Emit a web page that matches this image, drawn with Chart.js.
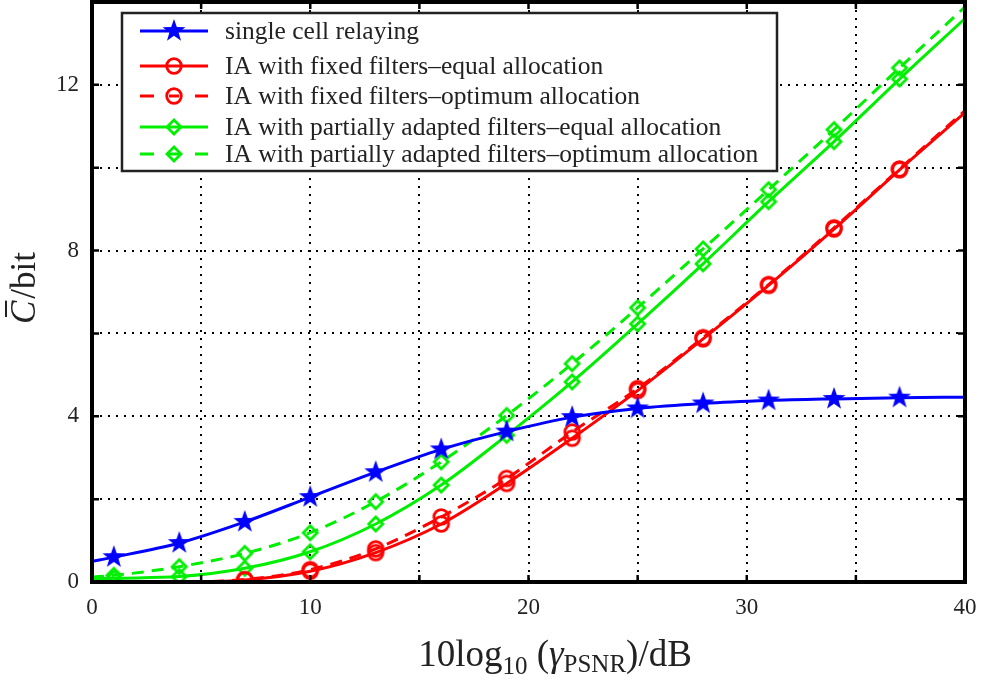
<!DOCTYPE html>
<html>
<head>
<meta charset="utf-8">
<script src="https://cdn.jsdelivr.net/npm/chart.js@4/dist/chart.umd.min.js"></script>
<style>
  html, body { margin: 0; padding: 0; background: #fff; }
</style>
</head>
<body>
<canvas id="chart" width="983" height="681"></canvas>
<script>
// x positions (dB) of the curves, markers sit every 3 dB from 1 to 37
const snrDb = [0, 1, 4, 7, 10, 13, 16, 19, 22, 25, 28, 31, 34, 37, 40];
const markerDb = [1, 4, 7, 10, 13, 16, 19, 22, 25, 28, 31, 34, 37];

const singleCell   = [0.50, 0.60, 0.94, 1.45, 2.05, 2.65, 3.20, 3.63, 3.98, 4.19, 4.31, 4.38, 4.42, 4.45, 4.46];
const fixedEqual   = [0.00, 0.00, 0.00, 0.05, 0.26, 0.71, 1.40, 2.38, 3.47, 4.62, 5.87, 7.16, 8.52, 9.95, 11.33];
const fixedOpt     = [0.00, 0.00, 0.00, 0.06, 0.30, 0.80, 1.57, 2.50, 3.62, 4.67, 5.90, 7.18, 8.55, 9.97, 11.38];
const partialEqual = [0.07, 0.09, 0.13, 0.33, 0.73, 1.40, 2.34, 3.54, 4.83, 6.23, 7.68, 9.18, 10.63, 12.14, 13.60];
const partialOpt   = [0.12, 0.16, 0.37, 0.69, 1.19, 1.94, 2.90, 4.02, 5.27, 6.62, 8.04, 9.47, 10.92, 12.41, 13.88];

const labels = [
  'single cell relaying',
  'IA with fixed filters\u2013equal allocation',
  'IA with fixed filters\u2013optimum allocation',
  'IA with partially adapted filters\u2013equal allocation',
  'IA with partially adapted filters\u2013optimum allocation'
];

const xTickLabels = [0, 10, 20, 30, 40];
const yTickLabels = [0, 4, 8, 12];

const FONT = "'Liberation Serif', 'DejaVu Serif', serif";
const BLUE = '#0000ff', RED = '#ff0000', GREEN = '#00ee00';

// marker pictures used as pointStyle
function makeMarker(kind, color) {
  const s = kind === 'star' ? 28 : 22;
  const c = document.createElement('canvas');
  c.width = s; c.height = s;
  const g = c.getContext('2d');
  g.translate(s / 2, s / 2);
  g.strokeStyle = color;
  g.fillStyle = color;
  g.lineWidth = 2.8;
  g.beginPath();
  if (kind === 'star') {
    for (let i = 0; i < 10; i++) {
      const r = i % 2 ? 4.8 : 12;
      const a = -Math.PI / 2 + i * Math.PI / 5;
      g.lineTo(r * Math.cos(a), r * Math.sin(a));
    }
    g.closePath();
    g.fill();
  } else if (kind === 'circle') {
    g.arc(0, 0, 7.3, 0, Math.PI * 2);
    g.stroke();
  } else {
    g.moveTo(0, -7); g.lineTo(7, 0); g.lineTo(0, 7); g.lineTo(-7, 0);
    g.closePath();
    g.stroke();
  }
  return c;
}

const starImg = makeMarker('star', BLUE);
const circleImg = makeMarker('circle', RED);
const diamondImg = makeMarker('diamond', GREEN);

function series(label, values, color, img, dash) {
  return {
    label: label,
    data: snrDb.map((x, i) => ({x: x, y: values[i]})),
    borderColor: color,
    backgroundColor: color,
    borderWidth: 3,
    borderDash: dash,
    pointStyle: img,
    pointRadius: ctx => {
      const p = ctx.raw;
      return markerDb.includes(p.x) && !(img === circleImg && p.y <= 0) ? 7 : 0;
    },
    cubicInterpolationMode: 'monotone',
    fill: false
  };
}

const datasets = [
  series(labels[0], singleCell, BLUE, starImg, []),
  series(labels[1], fixedEqual, RED, circleImg, []),
  series(labels[2], fixedOpt, RED, circleImg, [12, 8]),
  series(labels[3], partialEqual, GREEN, diamondImg, []),
  series(labels[4], partialOpt, GREEN, diamondImg, [12, 8])
];

const framePlugin = {
  id: 'frame',
  afterDraw(chart) {
    const ctx = chart.ctx;
    const a = chart.chartArea;
    const xs = chart.scales.x, ys = chart.scales.y;
    ctx.save();

    // inward tick marks
    ctx.strokeStyle = '#000';
    ctx.lineWidth = 2.5;
    ctx.beginPath();
    for (let v = 0; v <= 40; v += 5) {
      const px = xs.getPixelForValue(v);
      ctx.moveTo(px, a.bottom); ctx.lineTo(px, a.bottom - 7);
      ctx.moveTo(px, a.top); ctx.lineTo(px, a.top + 7);
    }
    for (let v = 0; v <= 14; v += 2) {
      const py = ys.getPixelForValue(v);
      ctx.moveTo(a.left, py); ctx.lineTo(a.left + 7, py);
      ctx.moveTo(a.right, py); ctx.lineTo(a.right - 7, py);
    }
    ctx.stroke();

    // frame
    ctx.lineWidth = 4;
    ctx.strokeRect(a.left, a.top, a.right - a.left, a.bottom - a.top);

    // legend box
    const bx = a.left + 30, by = 13, bw = 655, bh = 158;
    ctx.fillStyle = '#fff';
    ctx.fillRect(bx, by, bw, bh);
    ctx.lineWidth = 2.5;
    ctx.strokeStyle = '#222';
    ctx.strokeRect(bx, by, bw, bh);
    const rows = [31, 66, 96, 127, 154];
    ctx.font = '25.5px ' + FONT;
    ctx.textBaseline = 'middle';
    ctx.textAlign = 'left';
    chart.data.datasets.forEach((ds, i) => {
      const y = rows[i];
      ctx.strokeStyle = ds.borderColor;
      ctx.lineWidth = ds.borderWidth;
      ctx.beginPath();
      if (ds.borderDash.length) {
        ctx.moveTo(bx + 18, y); ctx.lineTo(bx + 32, y);
        ctx.moveTo(bx + 73, y); ctx.lineTo(bx + 86, y);
        ctx.moveTo(bx + 47, y); ctx.lineTo(bx + 57, y);
      } else {
        ctx.moveTo(bx + 18, y); ctx.lineTo(bx + 86, y);
      }
      ctx.stroke();
      const img = ds.pointStyle;
      ctx.drawImage(img, bx + 52 - img.width / 2, y - img.height / 2);
      ctx.fillStyle = '#222';
      ctx.fillText(ds.label, bx + 103, y + 1);
    });

    // x axis title: 10log10(gamma_PSNR)/dB
    ctx.fillStyle = '#222';
    ctx.textBaseline = 'alphabetic';
    const big = '37px ' + FONT, sub = '25px ' + FONT, it = 'italic 37px ' + FONT;
    const parts = [
      {t: '10log', f: big, dy: 0},
      {t: '10', f: sub, dy: 8},
      {t: ' (', f: big, dy: 0},
      {t: '\u03b3', f: it, dy: 0},
      {t: 'PSNR', f: sub, dy: 6},
      {t: ')/dB', f: big, dy: 0}
    ];
    let total = 0;
    parts.forEach(p => { ctx.font = p.f; p.w = ctx.measureText(p.t).width; total += p.w; });
    let x = 555 - total / 2;
    parts.forEach(p => { ctx.font = p.f; ctx.fillText(p.t, x, 666 + p.dy); x += p.w; });

    // y axis title: C-bar/bit
    ctx.translate(35, 289);
    ctx.rotate(-Math.PI / 2);
    ctx.font = 'italic 35px ' + FONT;
    const cw = ctx.measureText('C').width;
    ctx.font = '35px ' + FONT;
    const rw = ctx.measureText('/bit').width;
    let sx = -(cw + rw) / 2;
    ctx.font = 'italic 35px ' + FONT;
    ctx.fillText('C', sx, 0);
    ctx.fillRect(sx + 7, -30, cw - 7, 2);
    ctx.font = '35px ' + FONT;
    ctx.fillText('/bit', sx + cw + 2, 0);

    ctx.restore();
  }
};

const tickFont = {family: FONT, size: 23};

new Chart(document.getElementById('chart'), {
  type: 'line',
  data: {datasets: datasets},
  options: {
    responsive: false,
    animation: false,
    layout: {padding: {top: 2, right: 18, left: 0, bottom: 0}},
    plugins: {legend: {display: false}, tooltip: {enabled: false}},
    scales: {
      x: {
        type: 'linear', min: 0, max: 40,
        ticks: {
          stepSize: 5, autoSkip: false, maxRotation: 0, padding: 12,
          color: '#222', font: tickFont,
          callback: v => xTickLabels.includes(v) ? String(v) : ''
        },
        grid: {color: '#000', lineWidth: 2, drawTicks: false},
        border: {display: false, dash: [2, 6]},
        afterFit: s => { s.height = 99; s.paddingLeft = 0; s.paddingRight = 0; }
      },
      y: {
        type: 'linear', min: 0, max: 14,
        ticks: {
          stepSize: 2, autoSkip: false, padding: 13,
          color: '#222', font: tickFont,
          callback: v => yTickLabels.includes(v) ? String(v) : ''
        },
        grid: {color: '#000', lineWidth: 2, drawTicks: false},
        border: {display: false, dash: [2, 6]},
        afterFit: s => { s.width = 92; s.paddingTop = 0; s.paddingBottom = 0; }
      }
    }
  },
  plugins: [framePlugin]
});
</script>
</body>
</html>
